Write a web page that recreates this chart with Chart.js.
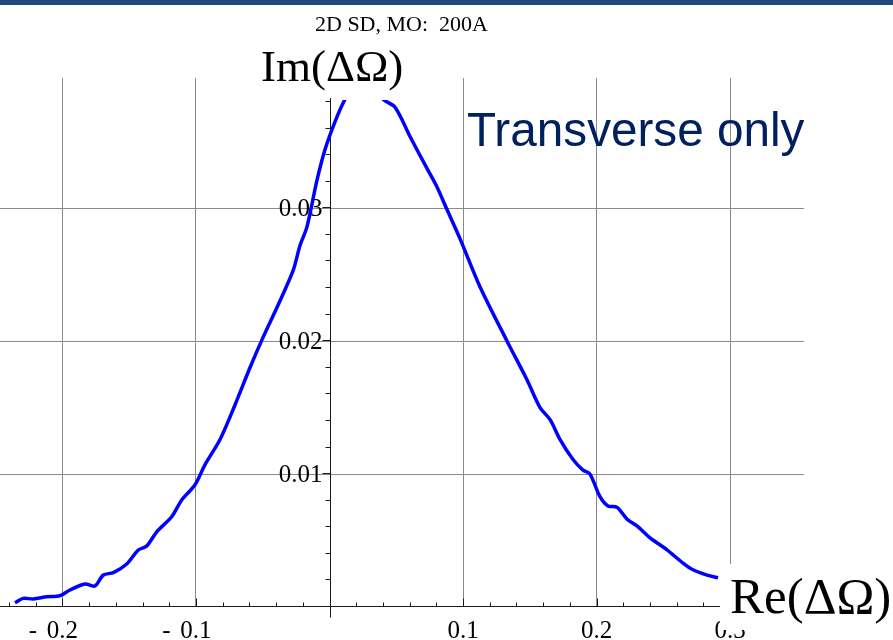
<!DOCTYPE html>
<html>
<head>
<meta charset="utf-8">
<title>Im vs Re</title>
<script src="https://cdn.jsdelivr.net/npm/chart.js@4.4.1/dist/chart.umd.min.js"></script>
<style>
    body { margin: 0; background: #fff; }
    #wrap { position: relative; width: 893px; height: 640px; overflow: hidden; }
    #box { position: absolute; left: 0; top: 0; width: 893px; height: 640px; }
    .topbar { position: absolute; left: 0; top: 0; width: 893px; height: 5px; background: #1f497d; }
    .txt { position: absolute; white-space: pre; line-height: 1; }
    .title { left: 315px; top: 11px; font: 22px "Liberation Serif", serif; color: #000; }
    .im-label { left: 261px; top: 40px; font: 45px "Liberation Serif", serif; color: #000; }
    .re-label { left: 720px; top: 564px; padding: 3px 6px 5px 10px; background: #fff;
                font: 51px "Liberation Serif", serif; color: #000; }
    .note { left: 467px; top: 102px; font: 47.7px "Liberation Sans", Arial, sans-serif; color: #002060; }
</style>
</head>
<body>
<div id="wrap">
    <div id="box"><canvas id="curveChart"></canvas></div>
    <div class="topbar"></div>
    <div class="txt title">2D SD, MO:  200A</div>
    <div class="txt im-label">Im(ΔΩ)</div>
    <div class="txt note">Transverse only</div>
    <div class="txt re-label">Re(ΔΩ)</div>
</div>

<script>
// ============================================
// Data
// ============================================
const reValues = [
    -0.2356, -0.2294, -0.2219, -0.2118, -0.2019, -0.1944, -0.1831, -0.1757,
    -0.1694, -0.1619, -0.1519, -0.1432, -0.1369, -0.1294, -0.1182, -0.1107,
    -0.1007, -0.0933, -0.0820, -0.0708, -0.0596, -0.0506, -0.0386, -0.0273,
    -0.0221, -0.0169, -0.0094, -0.0034, 0.0041, 0.0116, 0.0200, 0.0300,
    0.0401, 0.0491, 0.0603, 0.0730, 0.0805, 0.0880, 0.0978, 0.1127,
    0.1330, 0.1479, 0.1577, 0.1652, 0.1727, 0.1824, 0.1899, 0.1951,
    0.2026, 0.2086, 0.2154, 0.2229, 0.2303, 0.2401, 0.2528, 0.2648,
    0.2723, 0.2828, 0.2910
];
const imValues = [
    0.00032, 0.00065, 0.00060, 0.00077, 0.00085, 0.00128, 0.00173, 0.00158,
    0.00241, 0.00258, 0.00323, 0.00429, 0.00459, 0.00566, 0.00679, 0.00805,
    0.0092, 0.0107, 0.0126, 0.0152, 0.0180, 0.0201, 0.0227, 0.0253,
    0.0272, 0.0286, 0.0321, 0.0344, 0.0365, 0.0382, 0.0396, 0.0396,
    0.0382, 0.0376, 0.0354, 0.0330, 0.0316, 0.0299, 0.0277, 0.0241,
    0.0200, 0.0171, 0.0150, 0.0141, 0.0126, 0.0111, 0.0103, 0.0100,
    0.0083, 0.0076, 0.0075, 0.0066, 0.0061, 0.0052, 0.0043, 0.0033,
    0.0028, 0.0024, 0.0022
];

// tick labels
const xTicks = [-0.2, -0.1, 0.1, 0.2, 0.3];
const yTicks = [0.01, 0.02, 0.03];

// axis ranges
const xMin = -0.2468, xMax = 0.3554;
const yMin = 0, yMax = 0.0398;
const yAxisTop = 0.0383;

// ============================================
// Axes crossing at the origin (Mathematica style)
// ============================================
const crossAxes = {
    id: 'crossAxes',
    beforeDatasetsDraw(chart) {
        const { ctx, chartArea } = chart;
        const xs = chart.scales.x;
        const ys = chart.scales.y;
        const x0 = Math.round(xs.getPixelForValue(0)) + 0.5;
        const y0 = Math.round(ys.getPixelForValue(0)) - 0.5;

        ctx.save();
        ctx.strokeStyle = '#1a1a1a';
        ctx.lineWidth = 1;
        ctx.beginPath();
        ctx.moveTo(chartArea.left, y0);
        ctx.lineTo(chartArea.right, y0);
        ctx.moveTo(x0, ys.getPixelForValue(yAxisTop));
        ctx.lineTo(x0, y0 + 11);

        // x ticks, every 0.02
        for (let i = -12; i <= 17; i++) {
            if (i === 0) continue;
            const px = Math.round(xs.getPixelForValue(i * 0.02)) + 0.5;
            const len = (i % 5 === 0) ? 8 : 4;
            ctx.moveTo(px, y0);
            ctx.lineTo(px, y0 - len);
        }
        // y ticks, every 0.002
        for (let j = 1; j <= 19; j++) {
            const py = Math.round(ys.getPixelForValue(j * 0.002)) - 0.5;
            const len = (j % 5 === 0) ? 8 : 5;
            ctx.moveTo(x0, py);
            ctx.lineTo(x0 - len, py);
        }
        ctx.stroke();

        // tick labels
        ctx.fillStyle = '#000';
        ctx.font = '25px "Liberation Serif"';
        ctx.textAlign = 'right';
        ctx.textBaseline = 'middle';
        yTicks.forEach(v => {
            ctx.fillText(v.toFixed(2), x0 - 8, ys.getPixelForValue(v) + 1);
        });

        ctx.textAlign = 'center';
        ctx.textBaseline = 'top';
        xTicks.forEach(v => {
            const px = xs.getPixelForValue(v);
            const body = Math.abs(v).toFixed(1);
            if (v < 0) {
                const w = ctx.measureText(body).width;
                ctx.fillText(body, px, y0 + 12);
                ctx.fillText('-', px - w / 2 - 14, y0 + 12);
            } else {
                ctx.fillText(body, px, y0 + 12);
            }
        });
        ctx.restore();
    }
};

function fixedTicks(list) {
    return function(scale) {
        scale.ticks = list.map(v => ({ value: v }));
    };
}

function renderChart() {
    const ctx = document.getElementById('curveChart');
    new Chart(ctx, {
        type: 'line',
        data: {
            datasets: [{
                data: reValues.map((re, i) => ({ x: re, y: imValues[i] })),
                borderColor: '#0000ff',
                borderWidth: 3.5,
                pointRadius: 0,
                tension: 0.3,
                fill: false,
                clip: { left: 0, top: -22, right: 0, bottom: 0 }
            }]
        },
        options: {
            responsive: true,
            maintainAspectRatio: false,
            animation: false,
            layout: { padding: { left: 0, right: 89, top: 78, bottom: 33 } },
            plugins: {
                legend: { display: false },
                tooltip: { enabled: false }
            },
            scales: {
                x: {
                    type: 'linear',
                    min: xMin,
                    max: xMax,
                    afterBuildTicks: fixedTicks(xTicks),
                    ticks: { display: false },
                    border: { display: false },
                    grid: { color: '#8a8a8a', lineWidth: 1, drawTicks: false }
                },
                y: {
                    type: 'linear',
                    min: yMin,
                    max: yMax,
                    afterBuildTicks: fixedTicks(yTicks),
                    ticks: { display: false },
                    border: { display: false },
                    grid: { color: '#8a8a8a', lineWidth: 1, drawTicks: false }
                }
            }
        },
        plugins: [crossAxes]
    });
}

document.addEventListener('DOMContentLoaded', renderChart);
</script>
</body>
</html>
